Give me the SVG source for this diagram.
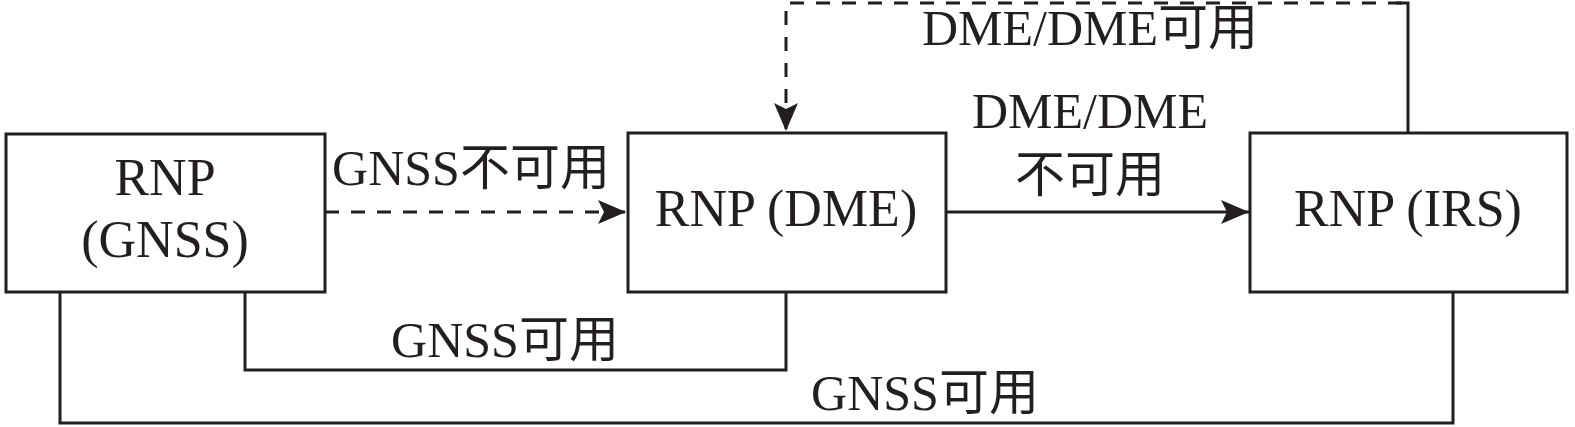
<svg xmlns="http://www.w3.org/2000/svg" width="1575" height="427" viewBox="0 0 1575 427">
<style>
.box{fill:#fff;stroke:#231f20;stroke-width:3}
.ln{fill:none;stroke:#231f20;stroke-width:3}
.dash{stroke-dasharray:14 12}
text{font-family:"Liberation Serif","Noto Sans CJK SC",serif;font-size:50px;fill:#231f20;text-anchor:middle}
.nt{font-size:52px}
</style>
<defs>
<marker id="ah" viewBox="0 0 28 24" refX="28" refY="12" markerWidth="28" markerHeight="24" markerUnits="userSpaceOnUse" orient="auto">
<path d="M0,0 L28,12 L0,24 L6,12 Z" fill="#231f20"/>
</marker>
</defs>
<g id="connectors">
<path class="ln dash" d="M325,212 H626" marker-end="url(#ah)"/>
<path class="ln" d="M946,212 H1249" marker-end="url(#ah)"/>
<path class="ln dash" d="M1402,3 H786 V131" marker-end="url(#ah)"/>
<path class="ln" d="M1408,133 V3 H1396"/>
<path class="ln" d="M245,292 V370 H786 V292"/>
<path class="ln" d="M60,292 V423 H1453 V292"/>
<text x="471" y="185">GNSS不可用</text>
<text x="1090" y="128">DME/DME</text>
<text x="1090" y="192">不可用</text>
<text x="1090" y="45">DME/DME可用</text>
<text x="505" y="357">GNSS可用</text>
<text x="925" y="410">GNSS可用</text>
</g>
<g id="node-gnss">
<rect class="box" x="6" y="134" width="319" height="158"/>
<text class="nt" x="165" y="195">RNP</text>
<text class="nt" x="165" y="257">(GNSS)</text>
</g>
<g id="node-dme">
<rect class="box" x="628" y="133" width="318" height="159"/>
<text class="nt" x="786" y="226">RNP (DME)</text>
</g>
<g id="node-irs">
<rect class="box" x="1250" y="133" width="317" height="159"/>
<text class="nt" x="1408" y="226">RNP (IRS)</text>
</g>
</svg>
